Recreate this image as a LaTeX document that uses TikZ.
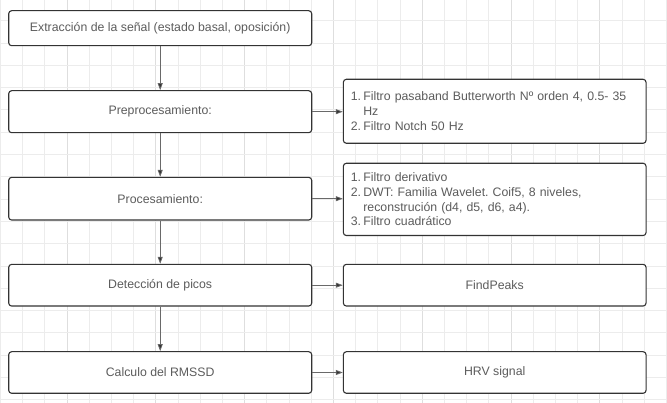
\documentclass[tikz,border=0pt]{standalone}
\usepackage{fontspec}
\setmainfont{Liberation Sans}
\usetikzlibrary{arrows.meta}
\definecolor{txt}{RGB}{92,92,92}
\definecolor{bord}{RGB}{51,51,51}
\definecolor{conn}{RGB}{105,105,105}
\definecolor{gridminor}{RGB}{236,236,236}
\definecolor{gridmajor}{RGB}{222,222,222}
\newcommand{\itm}[2]{\makebox[12.6pt][l]{#1}#2}
\frenchspacing
\begin{document}
\begin{tikzpicture}[x=1pt,y=-1pt,
  box/.style={draw=bord, line width=1.1pt, rounded corners=3pt, fill=white,
    inner sep=0pt, text=txt, font=\fontsize{12.3}{14.8}\selectfont},
  lbox/.style={box, minimum width=303pt},
  rbox/.style={box, minimum width=302.7pt},
  listbox/.style={box, minimum width=302.7pt, text width=287.9pt, align=left, inner xsep=7.4pt},
  conn/.style={draw=conn, line width=0.8pt, -{Triangle[length=7pt,width=5pt,fill=bord]}}
]
\useasboundingbox (0,0) rectangle (667,403);
\fill[white] (0,0) rectangle (667,403);
% grid
\foreach \k in {0,...,30} {
  \pgfmathsetmacro{\xx}{0.3+22.2*\k}
  \pgfmathtruncatemacro{\m}{mod(\k,4)}
  \ifnum\m=3
    \draw[gridmajor, line width=0.8pt] (\xx,0) -- (\xx,403);
  \else
    \draw[gridminor, line width=0.8pt] (\xx,0) -- (\xx,403);
  \fi
}
\foreach \k in {1,...,18} {
  \pgfmathsetmacro{\yy}{-1.6+22.3*\k}
  \draw[gridminor, line width=0.8pt] (0,\yy) -- (667,\yy);
}
% left column
\node[lbox, minimum height=35pt] (b1) at (160.2,28.2) {Extracción de la señal (estado basal, oposición)};
\node[lbox, minimum height=42pt] (b2) at (160.2,111.7) {Preprocesamiento:};
\node[lbox, minimum height=42.7pt] (b3) at (160.2,198.7) {Procesamiento:};
\node[lbox, minimum height=41.7pt] (b4) at (160.2,285.2) {Detección de picos};
\node[lbox, minimum height=41.6pt] (b5) at (160.2,372.5) {Calculo del RMSSD};
% right column
\node[listbox, minimum height=64pt] (r1) at (494.7,111.3) {%
  \itm{1.}{Filtro pasaband Butterworth Nº orden 4, 0.5- 35}\\
  \itm{}{Hz}\\
  \itm{2.}{Filtro Notch 50 Hz}};
\node[listbox, minimum height=72.3pt] (r2) at (494.7,199.4) {%
  \itm{1.}{Filtro derivativo}\\
  \itm{2.}{DWT: Familia Wavelet. Coif5, 8 niveles,}\\
  \itm{}{reconstrución (d4, d5, d6, a4).}\\
  \itm{3.}{Filtro cuadrático}};
\node[rbox, minimum height=41.7pt] (r3) at (494.7,285.2) {FindPeaks};
\node[rbox, minimum height=41.6pt] (r4) at (494.7,372.5) {HRV signal};
% connectors
\draw[conn] (b1.south) -- (b2.north);
\draw[conn] (b2.south) -- (b3.north);
\draw[conn] (b3.south) -- (b4.north);
\draw[conn] (b4.south) -- (b5.north);
\draw[conn] (b2.east) -- (b2.east -| r1.west);
\draw[conn] (b3.east) -- (b3.east -| r2.west);
\draw[conn] (b4.east) -- (r3.west);
\draw[conn] (b5.east) -- (r4.west);
\end{tikzpicture}
\end{document}
